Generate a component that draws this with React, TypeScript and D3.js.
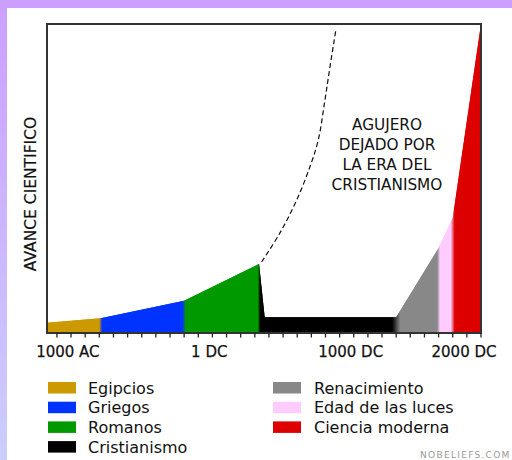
import React from "react";
import * as d3 from "d3";

// ---- data ----
const eraNames = ["Egipcios", "Griegos", "Romanos", "Cristianismo", "Renacimiento", "Edad de las luces", "Ciencia moderna"];
const eraColors = ["#cc9900", "#0033ff", "#009900", "#000000", "#888888", "#ffccff", "#dd0000"];
const eraStartYears = [-1070, -690, -100, 430, 1400, 1700, 1800];
const eraEndYears = [-690, -100, 430, 1400, 1700, 1800, 2000];

const profileYears = [-1070, -690, -100, 430, 470, 1400, 1700, 1800, 2000];
const profileValues = [3.3, 4.8, 10.4, 22.3, 5.1, 5.1, 27.5, 37.2, 100];

const hypoYears = [448, 578, 696, 790, 849, 896, 932, 975];
const hypoValues = [23.0, 32.4, 43.0, 53.8, 62.5, 75.4, 86.2, 98.6];

const tickYears = d3.range(-1000, 2001, 100);
const labelYears = [-1000, 0, 1000, 2000];
const labelTexts = ["1000 AC", "1 DC", "1000 DC", "2000 DC"];

const holeLines = ["AGUJERO", "DEJADO POR", "LA ERA DEL", "CRISTIANISMO"];
const yTitle = "AVANCE CIENTIFICO";
const watermark = "NOBELIEFS.COM";

const FONT = "'DejaVu Sans', Verdana, sans-serif";

export default function App() {
  const W = 512, H = 460;
  const left = 47, right = 481, top = 24, bottom = 333;
  const x = d3.scaleLinear().domain([-1070, 2000]).range([left, right]);
  const y = d3.scaleLinear().domain([0, 100]).range([bottom, top]);

  const profile = profileYears.map((yr, i) => ({ yr, v: profileValues[i] }));
  const area = d3.area<{ yr: number; v: number }>()
    .x((d) => x(d.yr))
    .y0(y(0))
    .y1((d) => y(d.v));

  const hypo = hypoYears.map((yr, i) => ({ yr, v: hypoValues[i] }));
  const line = d3.line<{ yr: number; v: number }>()
    .x((d) => x(d.yr))
    .y((d) => y(d.v))
    .curve(d3.curveCatmullRom.alpha(0.5));

  // gradient stops with soft transitions at era boundaries
  const blend = [1.5, 1.5, 1.2, 4, 1.5, 2];
  const span = right - left;
  const stops: { off: number; color: string }[] = [{ off: 0, color: eraColors[0] }];
  eraEndYears.slice(0, -1).forEach((b, i) => {
    const xb = x(b);
    stops.push({ off: (xb - blend[i] - left) / span, color: eraColors[i] });
    stops.push({ off: (xb + blend[i] - left) / span, color: eraColors[i + 1] });
  });
  stops.push({ off: 1, color: eraColors[eraColors.length - 1] });

  const legendCol1 = eraNames.slice(0, 4);
  const legendCol2 = eraNames.slice(4);

  return (
    <svg width={W} height={H} style={{ position: "absolute", left: 0, top: 0, background: "#fff" }}>
      <defs>
        <linearGradient id="sideGrad" x1="0" y1="0" x2="0" y2="1">
          <stop offset="0" stopColor="#cc9fff" />
          <stop offset="1" stopColor="#cccdff" />
        </linearGradient>
        <linearGradient id="eraGrad" gradientUnits="userSpaceOnUse" x1={left} y1={0} x2={right} y2={0}>
          {stops.map((s, i) => (
            <stop key={i} offset={Math.max(0, Math.min(1, s.off))} stopColor={s.color} />
          ))}
        </linearGradient>
      </defs>
      {/* frame border */}
      <rect x={0} y={0} width={W} height={H} fill="#ffffff" />
      <rect x={0} y={0} width={7} height={H} fill="url(#sideGrad)" />
      <rect x={0} y={0} width={W} height={8} fill="#cc9fff" />

      {/* full profile underlay (avoids seams) */}
      <path d={area(profile) || ""} fill="url(#eraGrad)" />
      {/* era areas */}
      {eraNames.map((name, i) => {
        const pts = profile.filter((d) => d.yr >= eraStartYears[i] && d.yr <= eraEndYears[i]);
        return <path key={name} d={area(pts) || ""} fill="url(#eraGrad)" />;
      })}

      {/* hypothetical dashed curve */}
      <path d={line(hypo) || ""} fill="none" stroke="#111" strokeWidth={1.2} strokeDasharray="5,3" />

      {/* plot frame */}
      <rect x={left} y={top} width={right - left} height={bottom - top} fill="none" stroke="#333" strokeWidth={2} />

      {/* ticks */}
      {tickYears.map((t) => (
        <line key={t} x1={x(t)} x2={x(t)} y1={bottom} y2={bottom + 4.5} stroke="#222" strokeWidth={1.3} />
      ))}
      {labelYears.map((t, i) => (
        <text key={t} x={Math.min(x(t) + 11, 464)} y={357} textAnchor="middle" fontFamily={FONT} fontSize={15} fill="#111" stroke="#111" strokeWidth={0.25}>
          {labelTexts[i]}
        </text>
      ))}

      {/* y title */}
      <text transform="translate(36,194) rotate(-90)" textAnchor="middle" fontFamily={FONT} fontSize={15.5} fill="#111" stroke="#111" strokeWidth={0.2}>
        {yTitle}
      </text>

      {/* hole annotation */}
      {holeLines.map((s, i) => (
        <text key={s} x={387} y={130 + i * 20} textAnchor="middle" fontFamily={FONT} fontSize={15.3} fill="#111">
          {s}
        </text>
      ))}

      {/* legend */}
      {legendCol1.map((n, i) => (
        <g key={n} transform={`translate(48,${382 + i * 19.7})`}>
          <rect x={0} y={0} width={28} height={11.5} fill={eraColors[i]} />
          <text x={40} y={11.5} fontFamily={FONT} fontSize={16} fill="#111">{n}</text>
        </g>
      ))}
      {legendCol2.map((n, i) => (
        <g key={n} transform={`translate(273,${382 + i * 19.7})`}>
          <rect x={0} y={0} width={28} height={11.5} fill={eraColors[i + 4]} />
          <text x={41} y={11.5} fontFamily={FONT} fontSize={16} fill="#111">{n}</text>
        </g>
      ))}

      <text x={420} y={458} fontFamily={FONT} fontSize={9} letterSpacing={1.3} fill="#999">{watermark}</text>
    </svg>
  );
}
